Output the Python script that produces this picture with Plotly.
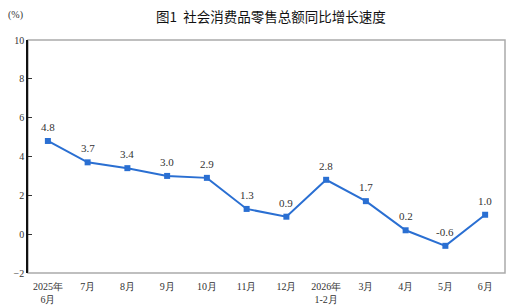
import plotly.graph_objects as go

categories = ["2025年<br>6月", "7月", "8月", "9月", "10月", "11月", "12月", "2026年<br>1-2月", "3月", "4月", "5月", "6月"]
values = [4.8, 3.7, 3.4, 3.0, 2.9, 1.3, 0.9, 2.8, 1.7, 0.2, -0.6, 1.0]
labels = ["4.8", "3.7", "3.4", "3.0", "2.9", "1.3", "0.9", "2.8", "1.7", "0.2", "-0.6", "1.0"]
yticks = [-2, 0, 2, 4, 6, 8, 10]

blue = "#2a6fd2"
serif = "'Times New Roman', 'Liberation Serif', serif"

fig = go.Figure()
fig.add_trace(go.Scatter(
    x=list(range(len(categories))), y=values, mode="lines+markers",
    line=dict(color=blue, width=2),
    marker=dict(symbol="square", size=6, color=blue),
    hoverinfo="skip", showlegend=False,
))

for i, (v, t) in enumerate(zip(values, labels)):
    fig.add_annotation(x=i, y=v, text=t, showarrow=False, yshift=14,
                       font=dict(family=serif, size=11, color="#333"))

fig.add_shape(type="rect", xref="paper", yref="paper", x0=0, y0=0, x1=1, y1=1,
              line=dict(color="#aaaaaa", width=1.5), layer="below")

fig.add_annotation(xref="paper", yref="paper", x=-0.027, y=1.107, text="(%)",
                   showarrow=False, xanchor="center", yanchor="middle",
                   font=dict(family=serif, size=10, color="#333"))

fig.update_layout(
    width=526, height=308,
    margin=dict(l=28, r=21, t=40, b=35, autoexpand=False),
    paper_bgcolor="white", plot_bgcolor="white",
    title=dict(text="图1  社会消费品零售总额同比增长速度", x=0.515, xanchor="center",
               y=0.945, yanchor="middle",
               font=dict(family="Noto Sans CJK SC", size=13.5, color="#111")),
    xaxis=dict(range=[-0.5, 11.5], tickmode="array",
               tickvals=list(range(len(categories))), ticktext=categories,
               showgrid=False, zeroline=False, showline=False, ticks="",
               automargin=False, ticklabelstandoff=6,
               tickfont=dict(family=serif, size=10, color="#333")),
    yaxis=dict(range=[-2, 10], tickvals=yticks, showgrid=False, zeroline=False,
               showline=True, linecolor="#111", linewidth=1.5,
               ticks="inside", ticklen=4, tickcolor="#333", automargin=False,
               tickfont=dict(family=serif, size=10, color="#333")),
)

fig.write_html("out.html")
